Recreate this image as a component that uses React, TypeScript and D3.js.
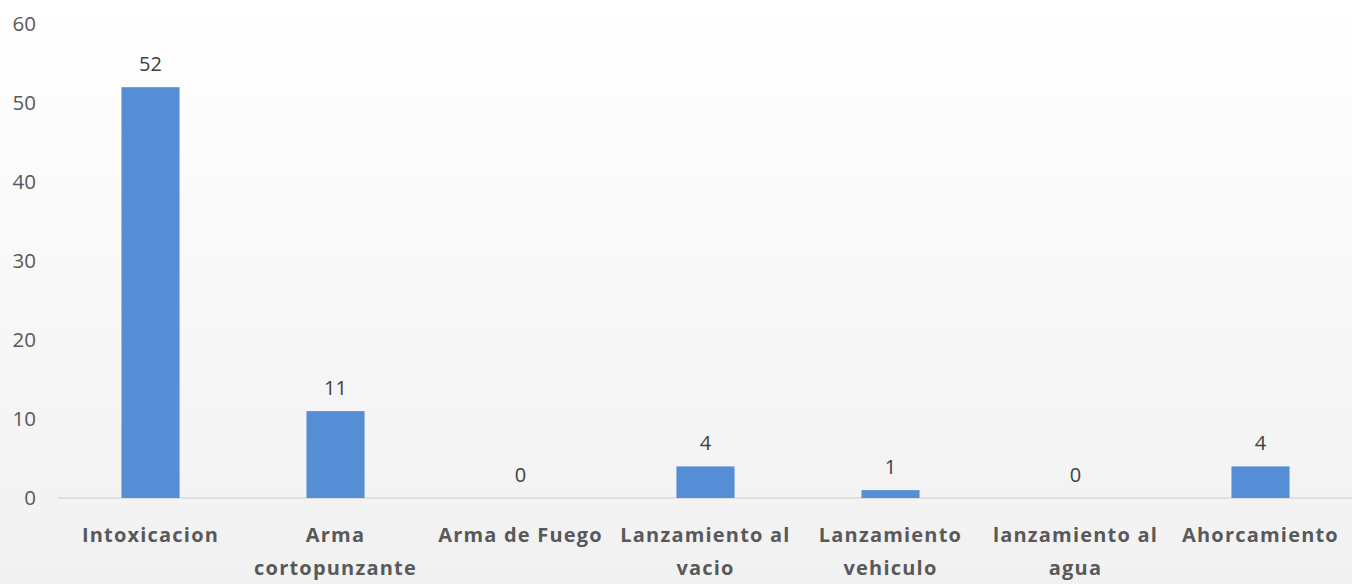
import React, { useEffect, useRef } from 'react';
import * as d3 from 'd3';

const categories = [
    'Intoxicacion',
    'Arma\ncortopunzante',
    'Arma de Fuego',
    'Lanzamiento al\nvacio',
    'Lanzamiento\nvehiculo',
    'lanzamiento al\nagua',
    'Ahorcamiento',
];
const values = [52, 11, 0, 4, 1, 0, 4];
const yTicks = [0, 10, 20, 30, 40, 50, 60];

const W = 1352;
const H = 584;
const FONT = '"Open Sans", "Noto Sans", sans-serif';

const App: React.FC = () => {
    const svgRef = useRef<SVGSVGElement | null>(null);

    useEffect(() => {
        const svg = d3.select(svgRef.current);
        svg.selectAll('*').remove();

        const defs = svg.append('defs');
        const grad = defs.append('linearGradient')
            .attr('id', 'bg')
            .attr('x1', 0).attr('y1', 0).attr('x2', 0).attr('y2', 1);
        grad.append('stop').attr('offset', '0%').attr('stop-color', '#ffffff');
        grad.append('stop').attr('offset', '100%').attr('stop-color', '#f1f1f2');

        svg.append('rect')
            .attr('width', W).attr('height', H)
            .attr('fill', 'url(#bg)');

        const x = d3.scaleBand<number>()
            .domain(d3.range(categories.length))
            .range([58, 1353])
            .paddingInner(0.686)
            .paddingOuter(0.343);

        const y = d3.scaleLinear().domain([0, 60]).range([498, 24]);

        // baseline
        svg.append('line')
            .attr('x1', 58).attr('x2', W)
            .attr('y1', y(0)).attr('y2', y(0))
            .attr('stroke', '#d9d9d9').attr('stroke-width', 1.5);

        // y tick labels
        svg.append('g')
            .selectAll('text')
            .data(yTicks)
            .enter()
            .append('text')
            .attr('x', 36)
            .attr('y', d => y(d))
            .attr('dy', '0.36em')
            .attr('text-anchor', 'end')
            .attr('font-family', FONT)
            .attr('font-size', 20.5)
            .attr('fill', '#595959')
            .text(d => d);

        // bars
        svg.append('g')
            .selectAll('rect')
            .data(values)
            .enter()
            .append('rect')
            .attr('x', (_, i) => x(i) ?? 0)
            .attr('y', d => y(d))
            .attr('width', x.bandwidth())
            .attr('height', d => y(0) - y(d))
            .attr('fill', '#558ed5');

        // value labels
        svg.append('g')
            .selectAll('text')
            .data(values)
            .enter()
            .append('text')
            .attr('x', (_, i) => (x(i) ?? 0) + x.bandwidth() / 2)
            .attr('y', d => y(d) - 16)
            .attr('text-anchor', 'middle')
            .attr('font-family', FONT)
            .attr('font-size', 20)
            .attr('fill', '#404040')
            .text(d => d);

        // category labels
        const cat = svg.append('g')
            .selectAll('text')
            .data(categories)
            .enter()
            .append('text')
            .attr('text-anchor', 'middle')
            .attr('font-family', FONT)
            .attr('font-size', 20)
            .attr('font-weight', 'bold')
            .attr('letter-spacing', 1.2)
            .attr('fill', '#595959');

        cat.each(function (d, i) {
            const cx = (x(i) ?? 0) + x.bandwidth() / 2;
            d.split('\n').forEach((line, j) => {
                d3.select(this).append('tspan')
                    .attr('x', cx)
                    .attr('y', 542 + j * 33)
                    .text(line);
            });
        });
    }, []);

    return (
        <svg ref={svgRef} width={W} height={H} style={{ display: 'block', position: 'absolute', left: 0, top: 0 }} />
    );
};

export default App;
